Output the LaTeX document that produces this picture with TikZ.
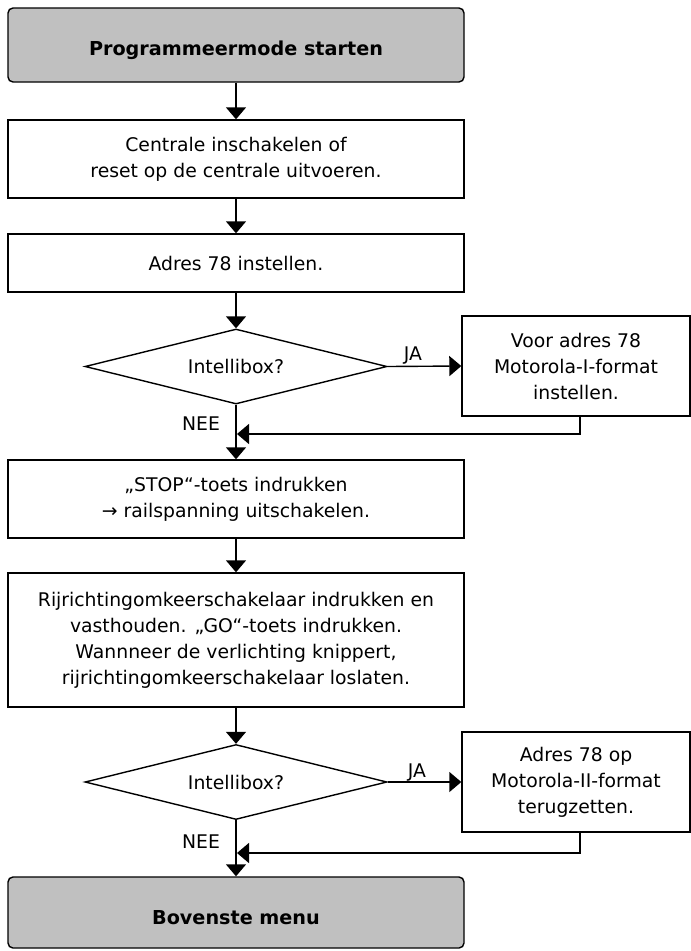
\documentclass[tikz,border=0pt]{standalone}
\usepackage{fontspec}
\setmainfont{DejaVu Sans}
\usetikzlibrary{shapes.geometric,arrows.meta,calc}
\definecolor{boxgray}{RGB}{192,192,192}
\newcommand{\lowtxt}[1]{\raisebox{-5pt}[\height][\depth]{#1}}
\begin{document}
\begin{tikzpicture}[x=1pt,y=-1pt,
  every node/.style={font=\fontsize{18.8}{26}\selectfont},
  proc/.style={draw, line width=1.4pt, minimum width=456pt, align=center, inner sep=0pt},
  term/.style={proc, fill=boxgray, rounded corners=5pt, font=\fontsize{19.2}{26}\selectfont\bfseries},
  dec/.style={diamond, draw, line width=1.4pt, aspect=4, minimum width=302pt, minimum height=75pt, inner sep=0pt},
  side/.style={proc, minimum width=228pt, minimum height=100pt},
  arr/.style={line width=1.4pt, -{Triangle[width=20pt,length=12pt]}},
  lbl/.style={inner sep=0pt}
]
\useasboundingbox (0,0) rectangle (691,951);
\node[term, minimum height=74pt] (start) at (236,45) {\lowtxt{Programmeermode starten}};
\node[proc, minimum height=78pt] (b1) at (236,159) {Centrale inschakelen of\\reset op de centrale uitvoeren.};
\node[proc, minimum height=58pt] (b2) at (236,263) {Adres 78 instellen.};
\node[dec] (d1) at (236,366.5) {Intellibox?};
\node[side] (s1) at (576,366) {Voor adres 78\\Motorola-I-format\\instellen.};
\node[proc, minimum height=78pt] (b3) at (236,499) {„STOP“-toets indrukken\\→ railspanning uitschakelen.};
\node[proc, minimum height=134pt] (b4) at (236,640) {Rijrichtingomkeerschakelaar indrukken en\\vasthouden. „GO“-toets indrukken.\\Wannneer de verlichting knippert,\\rijrichtingomkeerschakelaar loslaten.};
\node[dec] (d2) at (236,782) {Intellibox?};
\node[side] (s2) at (576,782) {Adres 78 op\\Motorola-II-format\\terugzetten.};
\node[term, minimum height=71pt] (end) at (236,912.5) {\lowtxt{Bovenste menu}};
\node[lbl] (ja1) at (413,356) {JA};
\node[lbl] (nee1) at (201,424) {NEE};
\node[lbl] (ja2) at (417,773) {JA};
\node[lbl] (nee2) at (201,842) {NEE};
\coordinate (r1) at (580,416);
\coordinate (m1) at (237,434);
\coordinate (r2) at (580,832);
\coordinate (m2) at (237,853);
\draw[arr] (start.south) -- (b1.north);
\draw[arr] (b1.south) -- (b2.north);
\draw[arr] (b2.south) -- (d1.north);
\draw[arr] (d1.east) -- (s1.west);
\draw[arr] (d1.south) -- (b3.north);
\draw[arr] (r1) |- (m1);
\draw[arr] (b3.south) -- (b4.north);
\draw[arr] (b4.south) -- (d2.north);
\draw[arr] (d2.east) -- (s2.west);
\draw[arr] (d2.south) -- (end.north);
\draw[arr] (r2) |- (m2);
\end{tikzpicture}
\end{document}
